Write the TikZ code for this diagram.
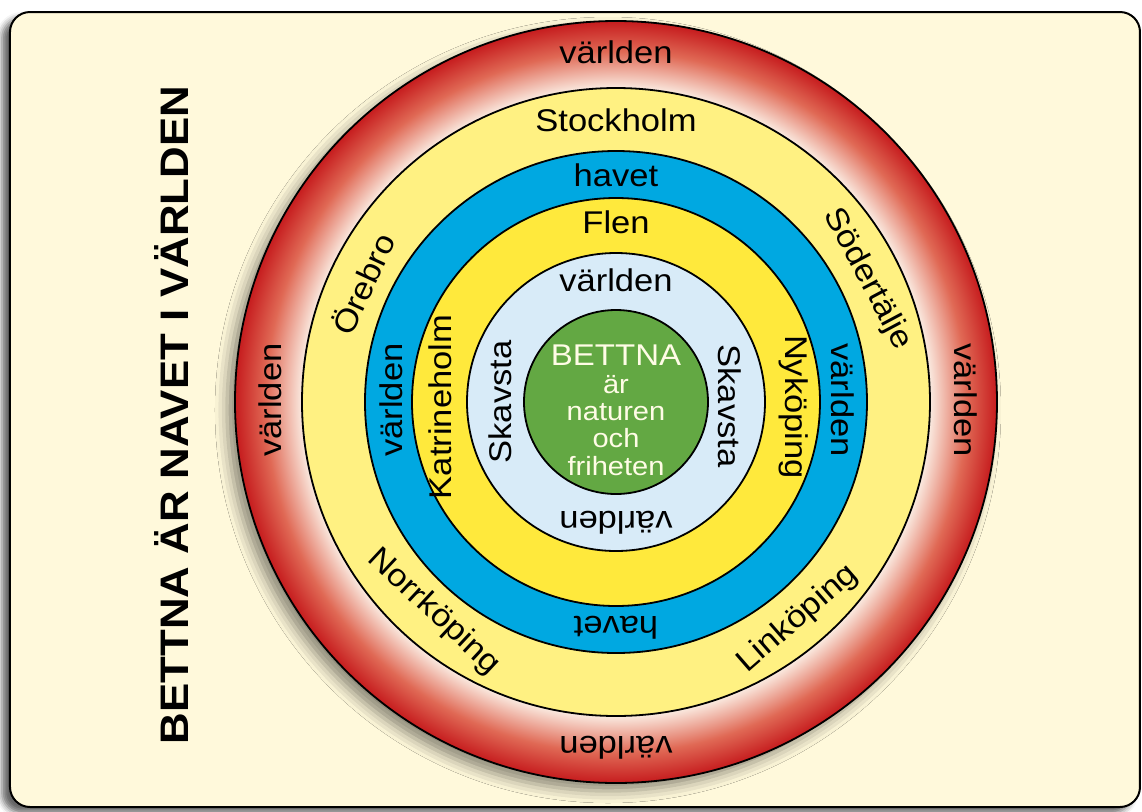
\documentclass[tikz,border=0pt]{standalone}
\usepackage{fontspec}
\setmainfont{Liberation Sans}
\usepackage{graphicx}
\usetikzlibrary{shadows.blur}

\definecolor{cardcream}{RGB}{255,249,219}
\definecolor{ringred}{RGB}{198,28,30}
\definecolor{ringmid}{RGB}{224,105,85}
\definecolor{ringpale}{RGB}{250,234,224}
\definecolor{stadyellow}{RGB}{255,241,130}
\definecolor{havetblue}{RGB}{0,168,225}
\definecolor{flenyellow}{RGB}{255,233,60}
\definecolor{skavstablue}{RGB}{216,235,248}
\definecolor{bettnagreen}{RGB}{99,168,67}
\definecolor{bettnatext}{RGB}{255,252,230}

\pgfdeclareradialshading{redring}{\pgfpoint{0bp}{0bp}}{%
  color(0bp)=(ringpale); color(20.6bp)=(ringpale); color(23bp)=(ringmid);
  color(25bp)=(ringred); color(50bp)=(ringred)}

\newcommand{\wide}[1]{\scalebox{1.1}[1]{#1}}

\tikzset{
  ring/.style={draw=black, line width=0.9pt},
  ringlabel/.style={font=\fontsize{15.7}{18}\selectfont, inner sep=0pt},
  corelabel/.style={font=\fontsize{13.2}{15}\selectfont, text=bettnatext, anchor=base, inner sep=0pt},
}

\begin{document}
\begin{tikzpicture}[x=0.5pt, y=0.5pt]
\useasboundingbox (-616,-409) rectangle (526,402);

% card
\draw[line width=1pt, fill=cardcream, rounded corners=10pt,
  blur shadow={shadow xshift=-4pt, shadow yshift=-3pt, shadow blur radius=3pt, shadow opacity=60}]
  (-606,-405) rectangle (524,390);

% title
\node[font=\bfseries\fontsize{19.9}{22}\selectfont, rotate=90] (title) at (-444,-13) {\wide{BETTNA ÄR NAVET I VÄRLDEN}};

% världen
\shade[shading=redring, blur shadow={shadow xshift=-4pt, shadow yshift=-4pt, shadow blur radius=6pt, shadow opacity=45}] (0,0) circle (381);
\draw[ring] (0,0) circle (381);
\node[ringlabel] (vTop) at (0,350) {\wide{världen}};
\node[ringlabel, rotate=180] (vBottom) at (0,-346) {\wide{världen}};
\node[ringlabel, rotate=90] (vLeft) at (-346,2) {\wide{världen}};
\node[ringlabel, rotate=-90] (vRight) at (350,2) {\wide{världen}};

% cities
\filldraw[ring, fill=stadyellow] (0,0) circle (314);
\node[ringlabel] (stockholm) at (0,282) {\wide{Stockholm}};
\node[ringlabel, rotate=65] (orebro) at (155:280) {\wide{Örebro}};
\node[ringlabel, rotate=-62] (sodertalje) at (26:280) {\wide{Södertälje}};
\node[ringlabel, rotate=-43] (norrkoping) at (229:278) {\wide{Norrköping}};
\node[ringlabel, rotate=41] (linkoping) at (-50:283) {\wide{Linköping}};

% havet
\filldraw[ring, fill=havetblue] (0,0) circle (251);
\node[ringlabel] (havetTop) at (0,227) {\wide{havet}};
\node[ringlabel, rotate=180] (havetBottom) at (0,-226) {\wide{havet}};
\node[ringlabel, rotate=90] (hvLeft) at (-225,2) {\wide{världen}};
\node[ringlabel, rotate=-90] (hvRight) at (227,2) {\wide{världen}};

% Flen
\filldraw[ring, fill=flenyellow] (0,0) circle (204);
\node[ringlabel] (flen) at (0,180) {\wide{Flen}};
\node[ringlabel, rotate=90] (katrineholm) at (-176,-5) {\wide{Katrineholm}};
\node[ringlabel, rotate=-90] (nykoping) at (178,-5) {\wide{Nyköping}};

% Skavsta
\filldraw[ring, fill=skavstablue] (0,0) circle (149);
\node[ringlabel] (svTop) at (0,122) {\wide{världen}};
\node[ringlabel, rotate=180] (svBottom) at (0,-121) {\wide{världen}};
\node[ringlabel, rotate=90] (skavstaLeft) at (-116,0) {\wide{Skavsta}};
\node[ringlabel, rotate=-90] (skavstaRight) at (114,-4) {\wide{Skavsta}};

% Bettna
\filldraw[ring, fill=bettnagreen] (0,0) circle (92);
\node[font=\fontsize{15}{18}\selectfont, text=bettnatext, anchor=base, inner sep=0pt] (bettna) at (0,37) {\wide{BETTNA}};
\node[corelabel] (ar) at (0,9) {\wide{är}};
\node[corelabel] (naturen) at (0,-18) {\wide{naturen}};
\node[corelabel] (och) at (0,-45) {\wide{och}};
\node[corelabel] (friheten) at (0,-73) {\wide{friheten}};

\end{tikzpicture}
\end{document}
